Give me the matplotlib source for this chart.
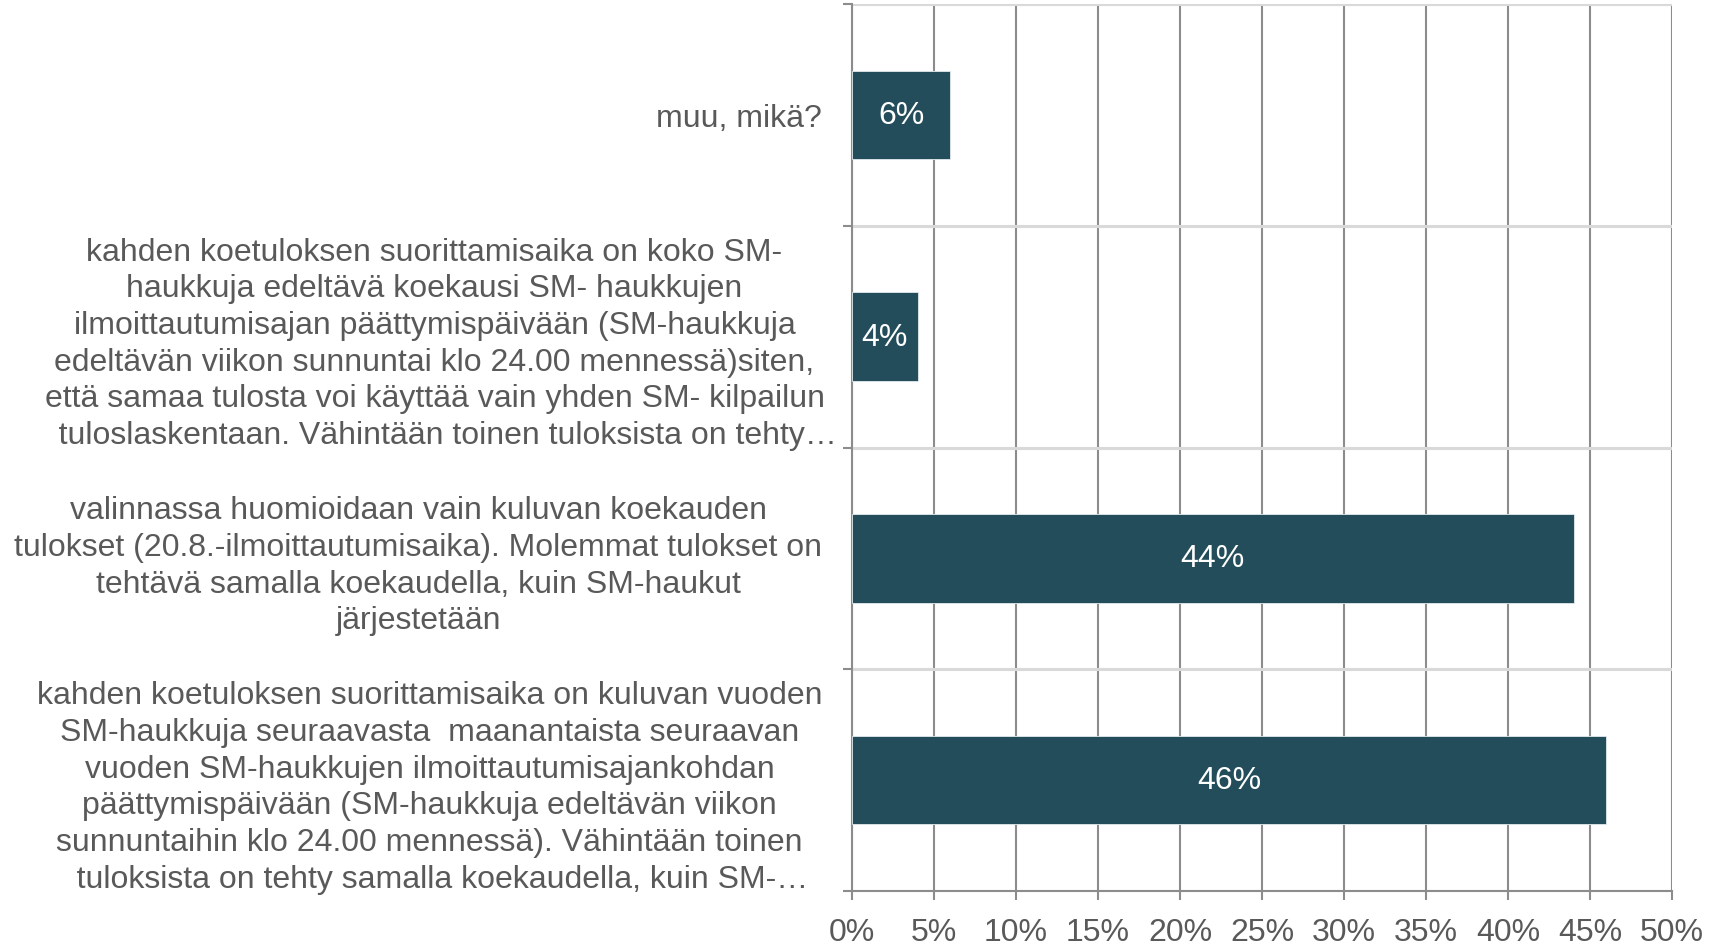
import matplotlib
matplotlib.use("Agg")
import matplotlib.pyplot as plt
from matplotlib.ticker import FixedLocator, PercentFormatter

plt.rcParams['font.family'] = ['Liberation Sans', 'DejaVu Sans']

# Data (bottom to top)
categories = [
    "kahden koetuloksen suorittamisaika on kuluvan vuoden\n"
    "SM-haukkuja seuraavasta  maanantaista seuraavan\n"
    "vuoden SM-haukkujen ilmoittautumisajankohdan\n"
    "päättymispäivään (SM-haukkuja edeltävän viikon\n"
    "sunnuntaihin klo 24.00 mennessä). Vähintään toinen\n"
    "   tuloksista on tehty samalla koekaudella, kuin SM-…",
    "valinnassa huomioidaan vain kuluvan koekauden\n"
    "tulokset (20.8.-ilmoittautumisaika). Molemmat tulokset on\n"
    "tehtävä samalla koekaudella, kuin SM-haukut\n"
    "järjestetään",
    "kahden koetuloksen suorittamisaika on koko SM-\n"
    "haukkuja edeltävä koekausi SM- haukkujen\n"
    "ilmoittautumisajan päättymispäivään (SM-haukkuja\n"
    "edeltävän viikon sunnuntai klo 24.00 mennessä)siten,\n"
    "että samaa tulosta voi käyttää vain yhden SM- kilpailun\n"
    "   tuloslaskentaan. Vähintään toinen tuloksista on tehty…",
    "muu, mikä?",
]
values = [46, 44, 4, 6]
value_labels = ["46%", "44%", "4%", "6%"]
x_ticks = [0, 5, 10, 15, 20, 25, 30, 35, 40, 45, 50]

BAR = "#234D5B"
TXT = "#595959"
GRID = "#8C8C8C"
LIGHT = "#D9D9D9"
FS = 23

fig = plt.figure(figsize=(17.09, 9.45), dpi=100)
ax = fig.add_axes([852/1709, 53/945, 820/1709, 887/945])

pos = list(range(len(values)))
bars = ax.barh(pos, values, height=0.4, color=BAR, edgecolor="#E3EBEE",
               linewidth=0.6, zorder=3)
for b, lab in zip(bars, value_labels):
    ax.text(b.get_x() + b.get_width()/2, b.get_y() + b.get_height()/2, lab,
            ha="center", va="center", color="white", fontsize=FS, zorder=4)

ax.set_xlim(0, 50)
ax.set_ylim(-0.5, len(values) - 0.5)

ax.xaxis.set_major_locator(FixedLocator(x_ticks))
ax.xaxis.set_major_formatter(PercentFormatter(decimals=0))
ax.tick_params(axis="x", which="major", length=6.5, width=1.5, color=GRID,
               labelcolor=TXT, labelsize=FS, pad=12)

ax.set_yticks(pos)
ax.set_yticklabels(categories, fontsize=FS, color=TXT, ha="right",
                   multialignment="center", linespacing=1.29)
ax.tick_params(axis="y", which="major", length=0, pad=21.5)
ax.yaxis.set_minor_locator(FixedLocator([p - 0.5 for p in pos] + [pos[-1] + 0.5]))
ax.tick_params(axis="y", which="minor", length=6.5, width=1.5, color=GRID)

# label with overflowing last line sits further right
ax.yaxis.get_major_ticks()[2].set_pad(10.8)

ax.grid(axis="x", which="major", color=GRID, linewidth=1.5, zorder=1)
ax.grid(axis="y", which="minor", color=LIGHT, linewidth=2.2, zorder=1)
ax.set_axisbelow(True)

for s in ["top", "right"]:
    ax.spines[s].set_visible(False)
for s in ["left", "bottom"]:
    ax.spines[s].set_color(GRID)
    ax.spines[s].set_linewidth(1.5)

fig.savefig("out.png", dpi=100)
